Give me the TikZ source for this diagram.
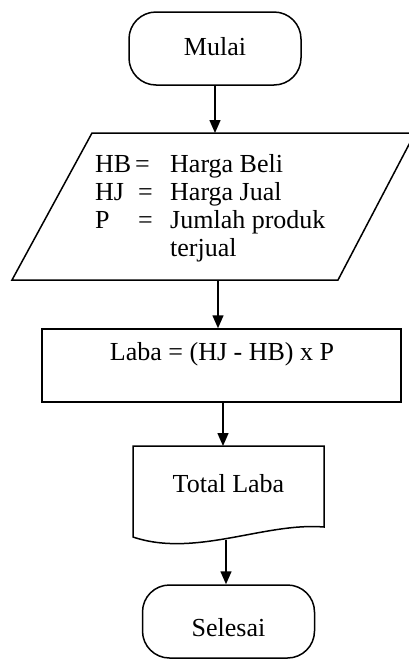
\documentclass[tikz,border=0pt]{standalone}
\usepackage{fontspec}
\setmainfont{Liberation Serif}
\usetikzlibrary{arrows.meta}
\begin{document}
\begin{tikzpicture}[x=1pt,y=-1pt,
  font=\fontsize{26}{28}\selectfont,
  outline/.style={draw, line width=1.5pt},
  term/.style={outline, rounded corners=27pt, minimum width=172pt, minimum height=73pt, inner sep=0pt},
  procbox/.style={outline, minimum width=359pt, minimum height=73pt, inner sep=0pt},
  label/.style={inner sep=0pt},
  arr/.style={line width=1.5pt, -{Triangle[length=13pt,width=11pt]}}]
\useasboundingbox (0,0) rectangle (408,659);
% Start
\node[term] (mulai) at (215,48.5) {};
\node[label] (mulaitext) at (215,47) {Mulai};
% Input parallelogram
\draw[line width=1.5pt] (92,133) -- (415,133) -- (338,280) -- (12,280) -- cycle;
\coordinate (ioN) at (217,133);
\coordinate (ioS) at (218,280);
\node[label, anchor=north west, align=left] (iotext) at (95,154.5)
  {\makebox[40pt][l]{HB}\makebox[35pt][l]{=}Harga Beli\\
   \makebox[43pt][l]{HJ}\makebox[32pt][l]{=}Harga Jual\\
   \makebox[43pt][l]{P}\makebox[32pt][l]{=}Jumlah produk\\
   \makebox[43pt][l]{}\makebox[32pt][l]{}terjual};
% Process
\node[procbox] (proc) at (221.5,365.5) {};
\coordinate (procS) at (223,402);
\node[label] (proctext) at (222,354) {Laba = (HJ - HB) x P};
% Document
\draw[line width=1.5pt] (133,446) -- (324,446) -- (324,527)
  .. controls (265,522) and (195,558) .. (133,537) -- cycle;
\coordinate (docN) at (223,446);
\coordinate (docS) at (226,540);
\node[label] (doctext) at (228.5,484) {Total Laba};
% End
\node[term] (selesai) at (228.5,621.5) {};
\node[label] (selesaitext) at (228.5,628) {Selesai};
% Connectors
\draw[arr] (mulai.south) -- (mulai.south |- ioN);
\draw[arr] (ioS) -- (ioS |- proc.north);
\draw[arr] (procS) -- (docN);
\draw[arr] (docS) -- (docS |- selesai.north);
\end{tikzpicture}
\end{document}
